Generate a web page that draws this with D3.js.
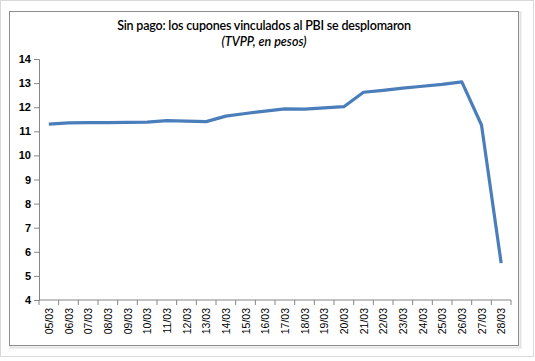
<!DOCTYPE html>
<html>
<head>
<meta charset="utf-8">
<script src="https://cdn.jsdelivr.net/npm/d3@7"></script>
<style>
  body { margin: 0; background: #fff; }
  svg { display: block; }
</style>
</head>
<body>
<svg width="535" height="361"></svg>
<script>
// fechas (eje x) y precio del cupon TVPP en pesos
var dates = ["05/03","06/03","07/03","08/03","09/03","10/03","11/03","12/03","13/03","14/03","15/03","16/03",
             "17/03","18/03","19/03","20/03","21/03","22/03","23/03","24/03","25/03","26/03","27/03","28/03"];
var tvpp = [11.30, 11.35, 11.36, 11.36, 11.37, 11.38, 11.44, 11.42, 11.40, 11.63, 11.74, 11.84,
            11.93, 11.92, 11.97, 12.02, 12.62, 12.70, 12.79, 12.87, 12.95, 13.05, 11.26, 5.53];
var yTicks = [4, 5, 6, 7, 8, 9, 10, 11, 12, 13, 14];

var svg = d3.select("svg");

// marco exterior claro + marco del grafico
svg.append("rect").attr("x", 0.5).attr("y", 0.5).attr("width", 533).attr("height", 356)
    .attr("fill", "none").attr("stroke", "#d9d9d9");
svg.append("rect").attr("x", 10.5).attr("y", 12.5).attr("width", 510).attr("height", 335)
    .attr("fill", "none").attr("stroke", "#e3e3e3").attr("stroke-width", 2);
svg.append("rect").attr("x", 9.5).attr("y", 11.5).attr("width", 509).attr("height", 334)
    .attr("fill", "#fff").attr("stroke", "#8c8c8c");

var x = d3.scaleBand().domain(dates).range([39, 511]);
var y = d3.scaleLinear().domain([4, 14]).range([300, 59]);

svg.append("text")
    .attr("x", 264).attr("y", 30)
    .attr("text-anchor", "middle")
    .attr("font-family", "Lato, 'Open Sans', sans-serif")
    .attr("font-size", 12.5)
    .attr("font-weight", 600)
    .attr("letter-spacing", -0.2)
    .text("Sin pago: los cupones vinculados al PBI se desplomaron");

svg.append("text")
    .attr("x", 264).attr("y", 46)
    .attr("text-anchor", "middle")
    .attr("font-family", "Lato, 'Open Sans', sans-serif")
    .attr("font-size", 12.5)
    .attr("font-style", "italic")
    .attr("font-weight", 600)
    .text("(TVPP, en pesos)");

// eje y
var yAxis = svg.append("g")
    .attr("transform", "translate(39,0)")
    .call(d3.axisLeft(y).tickValues(yTicks).tickSize(5).tickPadding(3));
yAxis.select(".domain").attr("stroke", "#868686");
yAxis.selectAll(".tick line").attr("stroke", "#868686");
yAxis.selectAll(".tick text")
    .attr("font-family", "'Liberation Sans', Arial, sans-serif")
    .attr("font-size", 11)
    .attr("font-weight", "bold")
    .attr("fill", "#000");

// eje x: marcas entre categorias
var xAxis = svg.append("g").attr("transform", "translate(0,300)");
xAxis.append("line")
    .attr("x1", 39).attr("x2", 511)
    .attr("stroke", "#868686");
xAxis.selectAll(".xt")
    .data(dates.concat(["end"]))
    .enter().append("line")
    .attr("x1", function (d, i) { return 39 + i * x.step(); })
    .attr("x2", function (d, i) { return 39 + i * x.step(); })
    .attr("y1", 0).attr("y2", 5)
    .attr("stroke", "#868686");
xAxis.selectAll(".xl")
    .data(dates)
    .enter().append("text")
    .attr("transform", function (d) {
        return "translate(" + (x(d) + x.bandwidth() / 2 + 4) + ",8) rotate(-90)";
    })
    .attr("text-anchor", "end")
    .attr("font-family", "'Liberation Sans', Arial, sans-serif")
    .attr("font-size", 10.5)
    .attr("fill", "#000")
    .text(function (d) { return d; });

var line = d3.line()
    .x(function (d, i) { return x(dates[i]) + x.bandwidth() / 2; })
    .y(function (d) { return y(d); });

svg.append("path")
    .datum(tvpp)
    .attr("d", line)
    .attr("fill", "none")
    .attr("stroke", "#4a7ebb")
    .attr("stroke-width", 3.2)
    .attr("stroke-linejoin", "round");
</script>
</body>
</html>
